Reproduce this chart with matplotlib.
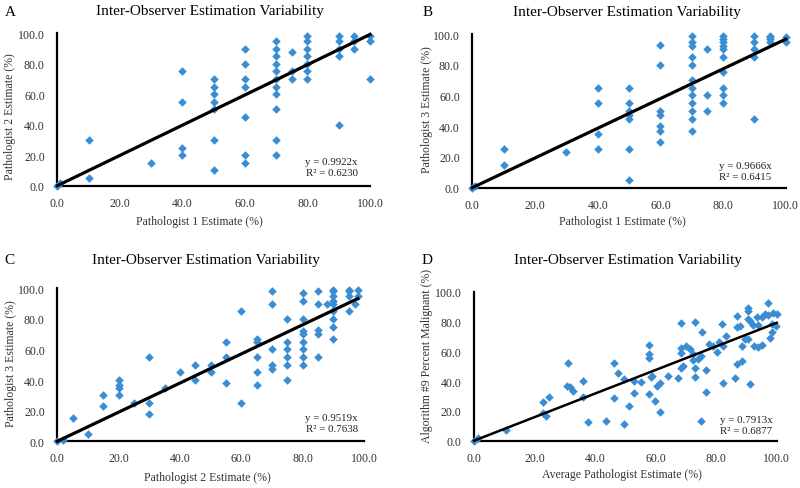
import numpy as np
import matplotlib
matplotlib.use("Agg")
import matplotlib.pyplot as plt

plt.rcParams['font.family'] = ['Liberation Serif', 'DejaVu Serif']

# Panel A: Pathologist 1 vs Pathologist 2
a_x = [0, 1, 10, 10, 30, 40, 40, 40, 40,
       50, 50, 50, 50, 50, 50, 50,
       60, 60, 60, 60, 60, 60, 60,
       70, 70, 70, 70, 70, 70, 70, 70, 70, 70, 70,
       75, 75, 75,
       80, 80, 80, 80, 80, 80, 80,
       90, 90, 90, 90, 90,
       95, 95, 95,
       100, 100, 100]
a_y = [0, 2, 30, 5, 15, 75, 55, 25, 20,
       70, 65, 60, 55, 50, 30, 10,
       90, 80, 70, 65, 45, 20, 15,
       95, 90, 85, 80, 75, 70, 65, 60, 50, 30, 20,
       88, 75, 70,
       98, 95, 90, 85, 80, 75, 70,
       98, 95, 90, 85, 40,
       98, 95, 90,
       98, 95, 70]

# Panel B: Pathologist 1 vs Pathologist 3
b_x = [0, 1, 10, 10, 30, 40, 40, 40, 40,
       50, 50, 50, 50, 50, 50, 50,
       60, 60, 60, 60, 60, 60, 60,
       70, 70, 70, 70, 70, 70, 70, 70, 70, 70, 70, 70,
       75, 75, 75,
       80, 80, 80, 80, 80, 80, 80, 80, 80, 80,
       90, 90, 90, 90, 90,
       95, 95, 95, 95,
       100, 100]
b_y = [0, 1, 25, 15, 23, 65, 55, 35, 25,
       65, 55, 50, 47, 45, 25, 5,
       93, 80, 50, 47, 40, 37, 30,
       99, 95, 92, 85, 80, 70, 65, 60, 55, 50, 45, 37,
       90, 60, 50,
       99, 97, 95, 92, 90, 85, 75, 65, 60, 55,
       99, 95, 90, 85, 45,
       99, 98, 97, 95,
       98, 95]

# Panel C: Pathologist 2 vs Pathologist 3
c_x = [0, 2, 5, 10, 15, 15, 20, 20, 20, 20, 25, 30, 30, 30, 35, 40, 45, 45, 50, 50,
       55, 55, 55, 60, 60, 65, 65, 65, 65, 65,
       70, 70, 70, 70, 70,
       75, 75, 75, 75, 75, 75,
       80, 80, 80, 80, 80, 80, 80, 80, 80,
       85, 85, 85, 85, 85, 88,
       90, 90, 90, 90, 90, 90, 90, 90, 90,
       95, 95, 95, 95, 97, 98, 98]
c_y = [0, 1, 15, 5, 30, 23, 40, 37, 35, 30, 25, 55, 25, 18, 35, 45, 50, 40, 50, 45,
       65, 55, 38, 85, 25, 67, 65, 55, 45, 37,
       98, 90, 60, 50, 47,
       80, 65, 60, 55, 50, 40,
       97, 92, 80, 72, 70, 65, 60, 55, 50,
       98, 90, 73, 70, 55, 90,
       99, 98, 95, 92, 90, 85, 80, 75, 67,
       99, 98, 95, 85, 90, 99, 95]

# Panel D: average pathologist vs algorithm #9
d_x = [0, 1.4, 10.6, 22.7, 22.7, 23.7, 24.8, 30.9, 30.6, 31.8, 32.6, 35.9, 35.9, 37.6,
       43.5, 46.1, 46.1, 47.7, 49.6, 49.6, 51.3, 53.0, 53.0, 55.2, 57.9, 57.9, 57.9,
       57.9, 58.9, 58.4, 59.8, 60.4, 61.5, 61.5, 64.0, 67.5, 68.3, 68.3, 68.3, 68.3,
       69.2, 70.0, 71.4, 72.5, 72.2, 73.1, 73.1, 73.1, 73.9, 75.0, 75.2, 75.0, 76.7,
       76.7, 77.6, 79.1, 80.4, 81.0, 81.8, 82.2, 82.4, 83.3, 86.1, 86.8, 86.8, 86.8,
       87.9, 88.5, 88.5, 89.5, 90.4, 90.4, 90.4, 90.4, 91.2, 91.2, 92.3, 92.6, 93.4,
       93.9, 93.9, 95.0, 95.0, 96.1, 97.2, 97.2, 97.8, 98.3, 98.3, 98.9, 99.8, 100.0]
d_y = [0, 1.6, 7.4, 26.2, 18.3, 16.8, 29.1, 52.1, 36.9, 35.8, 33.6, 40.3, 29.5, 12.3,
       13.0, 51.9, 28.9, 45.2, 41.4, 11.0, 23.5, 31.8, 40.3, 39.4, 64.2, 57.9, 55.3,
       31.1, 43.6, 42.5, 26.4, 36.9, 38.7, 19.0, 43.6, 41.8, 78.7, 62.0, 58.6, 48.5,
       50.3, 63.3, 61.5, 58.2, 54.4, 79.9, 48.5, 43.0, 55.0, 56.6, 73.2, 13.4, 47.4,
       32.4, 64.7, 63.3, 59.3, 66.0, 78.3, 63.3, 38.7, 70.5, 41.8, 83.4, 76.1, 51.5,
       77.2, 53.7, 63.8, 68.2, 89.0, 87.2, 81.7, 68.2, 80.5, 37.8, 77.6, 63.8, 82.8,
       77.6, 62.6, 64.2, 83.0, 85.0, 92.6, 84.1, 68.9, 72.7, 78.1, 85.7, 76.7, 85.2]

slopes = [0.9922, 0.9666, 0.9519, 0.7913]
r2 = ["0.6230", "0.6415", "0.7638", "0.6877"]
letters = ["A", "B", "C", "D"]
x_labels = ["Pathologist 1 Estimate (%)", "Pathologist 1 Estimate (%)",
            "Pathologist 2 Estimate (%)", "Average Pathologist Estimate (%)"]
y_labels = ["Pathologist 2 Estimate (%)", "Pathologist 3 Estimate (%)",
            "Pathologist 3 Estimate (%)", "Algorithm #9 Percent Malignant (%)"]
title = "Inter-Observer Estimation Variability"
ticks = [0, 20, 40, 60, 80, 100]

data = [(a_x, a_y), (b_x, b_y), (c_x, c_y), (d_x, d_y)]
rects = [[0.0716, 0.6182, 0.3909, 0.3117],
         [0.5904, 0.6141, 0.3918, 0.3143],
         [0.0716, 0.0955, 0.3834, 0.3129],
         [0.5925, 0.0967, 0.3784, 0.3047]]
title_pos = [(0.2625, 0.976), (0.784, 0.975), (0.2575, 0.467), (0.785, 0.468)]
letter_pos = [(0.0135, 0.975), (0.534, 0.975), (0.012, 0.468), (0.534, 0.468)]
xlab_pos = [(0.249, 0.545), (0.7775, 0.546), (0.259, 0.0225), (0.7775, 0.0286)]
ylab_pos = [(0.0125, 0.761), (0.534, 0.775), (0.014, 0.256), (0.534, 0.2726)]
eq_pos = [(87.7, 12.3), (87.0, 11.1), (89.5, 12.2), (90.0, 10.7)]
line_w = [2.3, 2.3, 2.3, 1.8]

fig = plt.figure(figsize=(8, 4.89), dpi=100)
for i in range(4):
    ax = fig.add_axes(rects[i])
    x, y = data[i]
    ax.scatter(x, y, marker='D', s=19, color='#3A8DD2', zorder=3, clip_on=False,
               linewidths=0)
    xx = np.array([0, max(x)])
    ax.plot(xx, slopes[i] * xx, color='black', lw=line_w[i], zorder=4, clip_on=False)
    ax.set_xlim(0, 100)
    ax.set_ylim(0, 100)
    ax.set_xticks(ticks)
    ax.set_yticks(ticks)
    ax.set_xticklabels([f"{t:.1f}" for t in ticks])
    ax.set_yticklabels([f"{t:.1f}" for t in ticks])
    ax.tick_params(length=0, labelsize=8.6, colors='#333333')
    ax.tick_params(axis='y', pad=9)
    ax.tick_params(axis='x', pad=8)
    for s in ['top', 'right']:
        ax.spines[s].set_visible(False)
    for s in ['left', 'bottom']:
        ax.spines[s].set_linewidth(1.6)
        ax.spines[s].set_color('black')
    ax.text(eq_pos[i][0], eq_pos[i][1], f"y = {slopes[i]:.4f}x\nR² = {r2[i]}",
            ha='center', va='center', fontsize=7.8, color='#222222',
            linespacing=1.3)
    fig.text(title_pos[i][0], title_pos[i][1], title, ha='center', va='center',
             fontsize=11)
    fig.text(letter_pos[i][0], letter_pos[i][1], letters[i], ha='center',
             va='center', fontsize=11)
    fig.text(xlab_pos[i][0], xlab_pos[i][1], x_labels[i], ha='center',
             va='center', fontsize=8.5, color='#333333')
    fig.text(ylab_pos[i][0], ylab_pos[i][1], y_labels[i], ha='center',
             va='center', fontsize=8.5, rotation=90, color='#333333')

plt.savefig("out.png", dpi=100)
